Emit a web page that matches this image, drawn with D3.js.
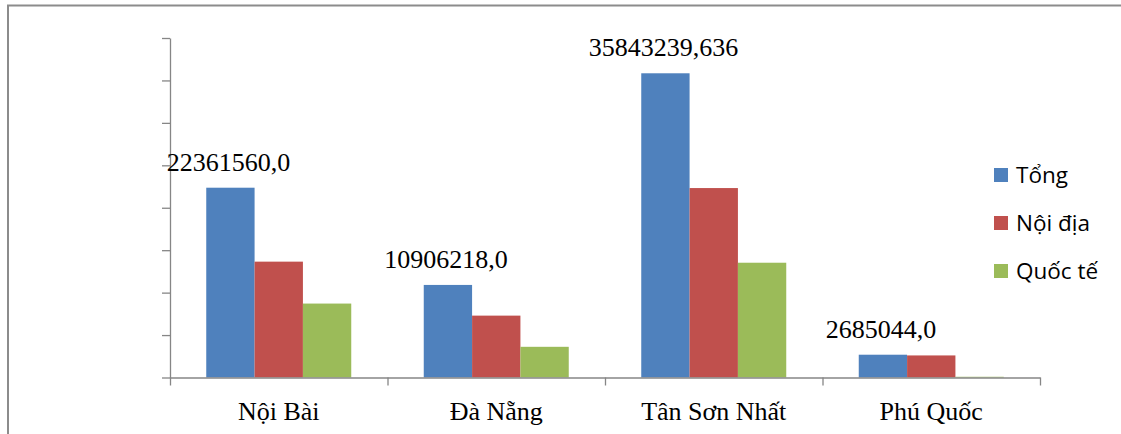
<!DOCTYPE html>
<html>
<head>
<meta charset="utf-8">
<script src="https://cdn.jsdelivr.net/npm/d3@7"></script>
<style>
  html, body { margin: 0; padding: 0; background: #fff; }
  svg { display: block; }
</style>
</head>
<body>
<svg id="chart" width="1121" height="434"></svg>
<script>
// Passenger throughput by airport
const airports = ["Nội Bài", "Đà Nẵng", "Tân Sơn Nhất", "Phú Quốc"];
const seriesNames = ["Tổng", "Nội địa", "Quốc tế"];
const tong = [22361560, 10906218, 35843239.636, 2685044];
const noiDia = [13650000, 7290000, 22320000, 2600000];
const quocTe = [8711560, 3616218, 13523239.636, 85044];
const totalLabels = ["22361560,0", "10906218,0", "35843239,636", "2685044,0"];
const yTicks = [0, 5e6, 10e6, 15e6, 20e6, 25e6, 30e6, 35e6, 40e6];
const colors = ["#4F81BD", "#C0504D", "#9BBB59"];

const svg = d3.select("#chart");
const values = [tong, noiDia, quocTe];

const plot = { left: 170, right: 1040, top: 38, bottom: 377.5 };

const x = d3.scaleBand().domain(airports).range([plot.left, plot.right]).padding(0);
const xs = d3.scaleBand().domain(seriesNames).range([0, x.bandwidth()])
  .paddingInner(0).paddingOuter(0.75);
const y = d3.scaleLinear().domain([0, 40e6]).range([plot.bottom, plot.top]);

// outer frame (top and left edges)
svg.append("path")
  .attr("d", "M8,434 V5.5 H1121")
  .attr("fill", "none")
  .attr("stroke", "#8c8c8c")
  .attr("stroke-width", 2);

// bars
const groups = svg.append("g").selectAll("g")
  .data(airports)
  .join("g")
  .attr("transform", d => `translate(${x(d)},0)`);

groups.selectAll("rect")
  .data((d, i) => seriesNames.map((s, j) => ({ s, j, v: values[j][i] })))
  .join("rect")
  .attr("x", d => xs(d.s))
  .attr("width", xs.bandwidth())
  .attr("y", d => y(d.v))
  .attr("height", d => y(0) - y(d.v))
  .attr("fill", d => colors[d.j]);

// y axis: tick marks only, no labels
const yAxis = svg.append("g")
  .attr("transform", `translate(${plot.left},0)`)
  .call(d3.axisLeft(y).tickValues(yTicks).tickFormat("").tickSize(8).tickSizeOuter(0));

// x axis: tick marks at category boundaries
const xEdge = d3.scaleLinear().domain([0, airports.length]).range([plot.left, plot.right]);
const xAxis = svg.append("g")
  .attr("transform", `translate(0,${plot.bottom})`)
  .call(d3.axisBottom(xEdge).tickValues(d3.range(airports.length + 1)).tickFormat("").tickSize(8).tickSizeOuter(0));

[yAxis, xAxis].forEach(g => {
  g.selectAll("path, line").attr("stroke", "#868686").attr("stroke-width", 1.3);
});

// category labels
svg.append("g").selectAll("text")
  .data(airports)
  .join("text")
  .attr("x", d => x(d) + x.bandwidth() / 2)
  .attr("y", 420)
  .attr("text-anchor", "middle")
  .attr("font-family", "'Liberation Serif', 'Times New Roman', serif")
  .attr("font-size", 26)
  .attr("fill", "#000")
  .text(d => d);

// total value labels above the "Tổng" bars
svg.append("g").selectAll("text")
  .data(airports)
  .join("text")
  .attr("x", d => x(d) + xs(seriesNames[0]) + xs.bandwidth() / 2 - 2)
  .attr("y", (d, i) => y(tong[i]) - 17)
  .attr("text-anchor", "middle")
  .attr("font-family", "'Liberation Serif', 'Times New Roman', serif")
  .attr("font-size", 26)
  .attr("fill", "#000")
  .text((d, i) => totalLabels[i]);

// legend
const legend = svg.append("g").selectAll("g")
  .data(seriesNames)
  .join("g")
  .attr("transform", (d, i) => `translate(994,${175 + i * 48})`);

legend.append("rect")
  .attr("x", 0).attr("y", -7)
  .attr("width", 14).attr("height", 14)
  .attr("fill", (d, i) => colors[i]);

legend.append("text")
  .attr("x", 22).attr("y", 8)
  .attr("font-family", "'Open Sans', 'Noto Sans', sans-serif")
  .attr("font-size", 22.5)
  .attr("fill", "#000")
  .text(d => d);
</script>
</body>
</html>
